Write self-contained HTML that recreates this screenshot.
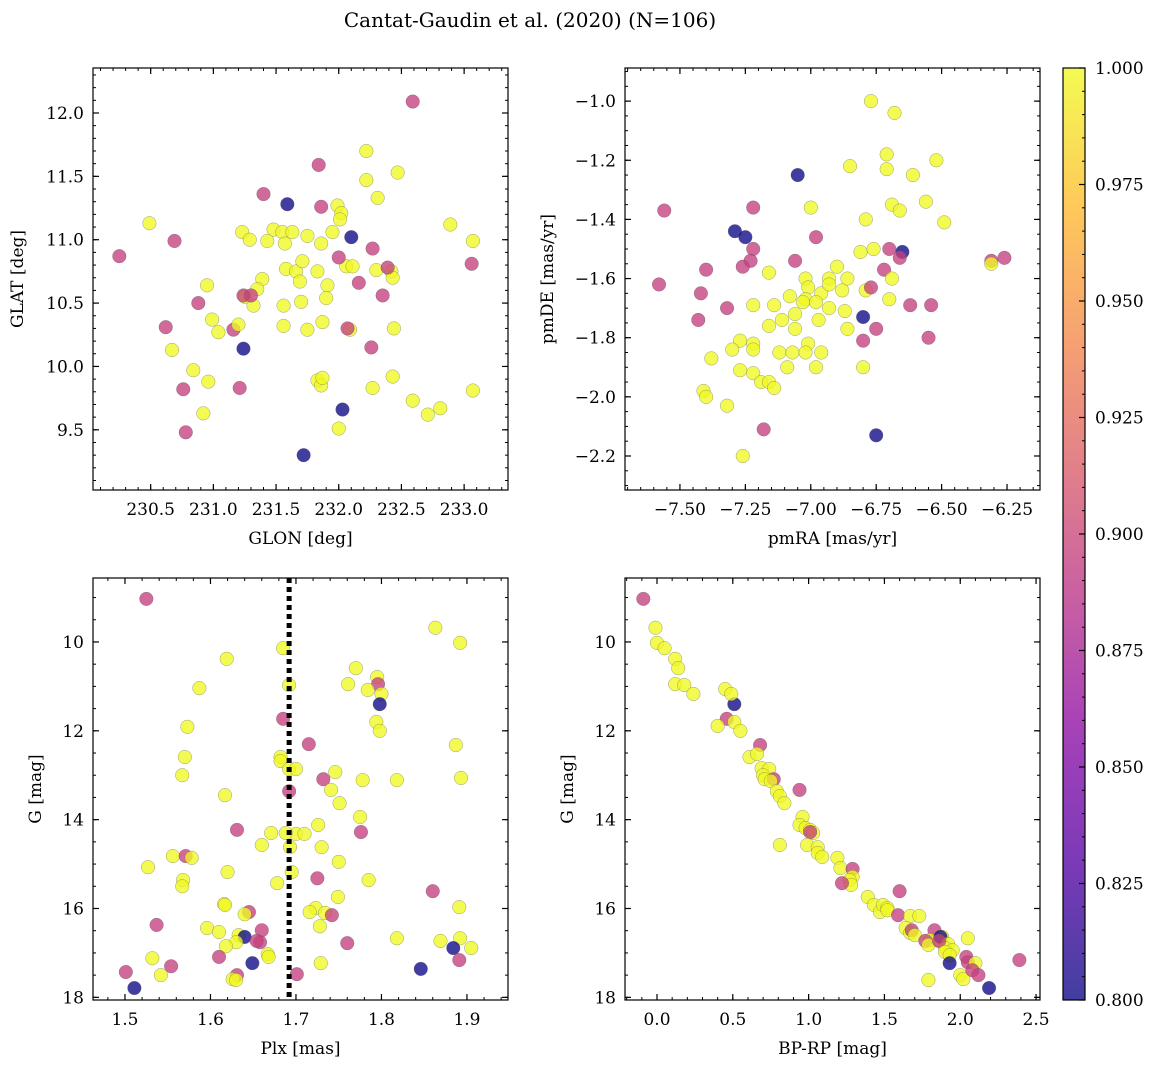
<!DOCTYPE html>
<html><head><meta charset="utf-8"><style>
html,body{margin:0;padding:0;background:#fff;}
svg{display:block;font-family:"DejaVu Serif","Liberation Serif",serif;}
</style></head><body>
<svg id="fig" width="1160" height="1067" viewBox="0 0 1160 1067" xmlns="http://www.w3.org/2000/svg">
<text x="530" y="27" font-size="20" text-anchor="middle">Cantat-Gaudin et al. (2020) (N=106)</text>
</svg>
<script>
// ---- data ----
const p1x=[232.59,232.22,231.84,232.22,232.47,232.31,231.40,231.59,231.86,231.99,232.02,232.01,230.49,232.89,231.23,231.48,231.55,231.63,231.29,231.43,231.57,231.75,231.95,231.86,230.69,230.25,232.10,233.07,232.27,231.58,231.39,231.66,231.71,231.83,232.06,232.11,232.30,232.42,232.43,232.00,232.39,232.16,233.06,230.95,231.35,231.69,231.91,231.90,231.32,231.25,231.24,231.30,230.88,232.35,230.99,231.56,231.56,231.70,231.87,231.16,230.62,231.04,231.20,231.75,232.09,232.07,232.44,232.26,231.24,230.67,230.84,230.96,230.76,231.21,232.43,232.27,231.83,231.86,231.87,230.92,230.78,232.59,232.71,232.81,233.07,232.03,232.00,231.72];
const p1y=[12.09,11.70,11.59,11.47,11.53,11.33,11.36,11.28,11.26,11.27,11.21,11.16,11.13,11.12,11.06,11.08,11.06,11.06,11.00,10.99,10.97,11.03,11.06,10.97,10.99,10.87,11.02,10.99,10.93,10.77,10.69,10.75,10.83,10.75,10.79,10.79,10.76,10.75,10.70,10.86,10.78,10.66,10.81,10.64,10.61,10.67,10.64,10.54,10.48,10.55,10.56,10.56,10.50,10.56,10.37,10.48,10.32,10.51,10.35,10.29,10.31,10.27,10.33,10.29,10.29,10.30,10.30,10.15,10.14,10.13,9.97,9.88,9.82,9.83,9.92,9.83,9.89,9.85,9.91,9.63,9.48,9.73,9.62,9.67,9.81,9.66,9.51,9.30];
const p1c="PYPYYYPBPYYYYYYYYYYYYYYYPPBYPYYYYYYYYYYPPPPYYYYYYYPPPPYYYYYPPYYYYPYPBYYYPPYYYYYYPYYYYBYB";
const p2x=[-6.77,-6.68,-6.71,-6.71,-6.85,-6.52,-6.61,-7.05,-7.56,-6.69,-6.66,-6.56,-6.49,-7.00,-7.22,-6.79,-7.29,-7.25,-6.98,-7.22,-7.23,-6.81,-6.76,-6.70,-6.65,-6.66,-7.06,-7.40,-7.26,-6.72,-7.58,-7.16,-7.02,-6.93,-6.90,-6.31,-6.31,-6.26,-7.01,-7.08,-7.02,-6.96,-6.93,-6.88,-6.86,-6.79,-6.70,-6.69,-6.77,-7.42,-7.22,-7.14,-7.03,-6.98,-6.93,-6.87,-6.62,-6.54,-7.43,-7.32,-7.06,-6.97,-7.11,-6.80,-7.16,-7.06,-6.86,-6.75,-6.55,-7.27,-7.01,-7.22,-6.80,-7.30,-7.22,-7.12,-7.07,-7.02,-6.96,-7.38,-7.09,-6.98,-6.80,-7.27,-7.22,-7.19,-7.16,-7.14,-7.41,-7.40,-7.32,-7.18,-6.75,-7.26];
const p2y=[-1.00,-1.04,-1.18,-1.23,-1.22,-1.20,-1.25,-1.25,-1.37,-1.35,-1.37,-1.34,-1.41,-1.36,-1.36,-1.40,-1.44,-1.46,-1.46,-1.50,-1.54,-1.51,-1.50,-1.50,-1.51,-1.53,-1.54,-1.57,-1.56,-1.57,-1.62,-1.58,-1.60,-1.60,-1.56,-1.54,-1.55,-1.53,-1.63,-1.66,-1.67,-1.65,-1.62,-1.64,-1.60,-1.64,-1.67,-1.60,-1.63,-1.65,-1.69,-1.69,-1.68,-1.68,-1.70,-1.71,-1.69,-1.69,-1.74,-1.70,-1.72,-1.74,-1.74,-1.73,-1.76,-1.77,-1.77,-1.77,-1.80,-1.81,-1.82,-1.82,-1.81,-1.84,-1.84,-1.85,-1.85,-1.85,-1.85,-1.87,-1.90,-1.90,-1.90,-1.91,-1.92,-1.95,-1.95,-1.97,-1.98,-2.00,-2.03,-2.11,-2.13,-2.20];
const p2c=["Y","Y","Y","Y","Y","Y","Y","B","P","Y","Y","Y","Y","Y","P","Y","B","B","P","P","P","Y","Y","P","B","P","P","P","P","P","P","Y","Y","Y","Y","P","Y","P","Y","Y","Y","Y","Y","Y","Y","Y","Y","Y","P","P","Y","Y","Y","Y","Y","Y","P","P","P","P","Y","Y","Y","B","Y","Y","Y","P","P","Y","Y","Y","P","Y","Y","Y","Y","Y","Y","Y","Y","Y","Y","Y","Y","Y","Y","Y","Y","Y","Y","P","B","Y"];
const p3x=[1.525,1.863,1.892,1.685,1.619,1.692,1.795,1.770,1.761,1.796,1.800,1.784,1.587,1.798,1.685,1.794,1.798,1.573,1.887,1.715,1.682,1.570,1.682,1.692,1.700,1.746,1.567,1.732,1.893,1.778,1.818,1.617,1.692,1.741,1.751,1.775,1.776,1.631,1.726,1.671,1.700,1.710,1.688,1.693,1.660,1.730,1.750,1.556,1.571,1.578,1.527,1.620,1.695,1.725,1.568,1.567,1.678,1.785,1.749,1.860,1.616,1.891,1.617,1.723,1.716,1.734,1.742,1.645,1.640,1.537,1.596,1.610,1.728,1.660,1.633,1.640,1.658,1.654,1.630,1.618,1.818,1.760,1.869,1.892,1.905,1.884,1.667,1.668,1.610,1.532,1.554,1.729,1.891,1.649,1.846,1.501,1.542,1.631,1.626,1.630,1.701,1.511];
const p3y=[9.03,9.68,10.02,10.14,10.38,10.97,10.79,10.59,10.95,10.95,11.17,11.08,11.04,11.40,11.73,11.80,12.00,11.91,12.32,12.30,12.59,12.59,12.68,12.86,12.86,12.93,13.00,13.09,13.06,13.11,13.11,13.45,13.36,13.33,13.63,13.94,14.28,14.23,14.12,14.30,14.32,14.32,14.30,14.62,14.57,14.62,14.95,14.82,14.82,14.86,15.07,15.18,15.18,15.32,15.36,15.50,15.43,15.36,15.74,15.61,15.90,15.97,15.92,15.99,16.08,16.10,16.15,16.08,16.13,16.37,16.44,16.53,16.40,16.49,16.60,16.64,16.76,16.73,16.76,16.85,16.67,16.78,16.73,16.67,16.89,16.89,17.03,17.09,17.09,17.12,17.30,17.23,17.16,17.23,17.36,17.43,17.50,17.50,17.59,17.61,17.48,17.79];
const p3c=["P","Y","Y","Y","Y","Y","Y","Y","Y","P","Y","Y","Y","B","P","Y","Y","Y","Y","P","Y","Y","Y","Y","Y","Y","Y","P","Y","Y","Y","Y","P","Y","Y","Y","P","P","Y","Y","Y","Y","Y","Y","Y","Y","Y","Y","P","Y","Y","Y","Y","P","Y","Y","Y","Y","Y","P","Y","Y","Y","Y","Y","Y","P","P","Y","P","Y","Y","Y","P","Y","B","P","P","Y","Y","Y","P","Y","Y","Y","B","Y","Y","P","Y","P","Y","P","B","B","P","Y","P","Y","Y","P","B"];
const p4x=[-0.09,-0.01,0.00,0.05,0.12,0.14,0.12,0.18,0.24,0.45,0.51,0.49,0.46,0.40,0.51,0.55,0.68,0.61,0.66,0.69,0.74,0.70,0.71,0.77,0.75,0.79,0.81,0.84,0.94,0.96,0.94,0.98,1.01,1.03,1.01,0.99,0.81,1.06,1.06,1.09,1.19,1.21,1.29,1.29,1.27,1.28,1.22,1.39,1.43,1.47,1.49,1.52,1.52,1.60,1.59,1.67,1.73,1.64,1.67,1.68,1.70,1.83,1.80,1.85,1.88,1.87,1.92,1.77,1.90,1.95,2.05,1.79,1.86,1.90,1.93,1.93,2.04,2.05,2.10,2.00,2.02,2.08,2.12,1.79,2.39,2.19];
const p4y=[9.03,9.68,10.02,10.14,10.38,10.59,10.95,10.97,11.17,11.06,11.40,11.17,11.73,11.89,11.80,12.00,12.32,12.59,12.52,12.84,12.86,13.00,13.09,13.09,13.13,13.36,13.47,13.63,13.33,13.94,14.12,14.19,14.23,14.30,14.28,14.57,14.57,14.62,14.75,14.84,14.86,15.09,15.11,15.29,15.36,15.47,15.43,15.74,15.92,16.08,15.92,15.99,16.04,15.61,16.15,16.17,16.17,16.44,16.55,16.49,16.60,16.49,16.71,16.71,16.64,16.64,16.80,16.73,16.89,16.94,16.67,16.82,16.73,16.98,17.05,17.23,17.09,17.21,17.23,17.50,17.59,17.39,17.50,17.61,17.16,17.79];
const p4c=["P","Y","Y","Y","Y","Y","Y","Y","Y","Y","B","Y","P","Y","Y","Y","P","Y","Y","Y","Y","Y","Y","P","Y","Y","Y","Y","P","Y","Y","Y","Y","Y","P","Y","Y","Y","Y","Y","Y","Y","P","Y","Y","Y","P","Y","Y","Y","Y","Y","Y","P","P","Y","Y","Y","Y","P","Y","P","Y","Y","Y","B","Y","P","Y","Y","Y","Y","P","Y","Y","B","P","P","Y","Y","Y","P","P","Y","P","B"];
const probOf={Y:1.0,P:0.895,B:0.8};
const cbTicks=[0.800,0.825,0.850,0.875,0.900,0.925,0.950,0.975,1.000];
const plxLine=1.692;

// ---- plasma colormap ----
const plasma=[[13,8,135],[84,2,163],[139,10,165],[185,50,137],[219,92,104],[244,136,73],[254,188,43],[240,249,33]];
function cmap(t){if(!isFinite(t))t=1;t=Math.max(0,Math.min(1,t));const s=t*(plasma.length-1),i=Math.min(Math.floor(s),plasma.length-2),f=s-i;
const a=plasma[i],b=plasma[i+1];return `rgb(${a.map((v,k)=>Math.round(v+(b[k]-v)*f)).join(',')})`;}
function pc(p){return cmap((p-0.8)/0.2);}

const NS="http://www.w3.org/2000/svg";
const svg=document.getElementById('fig');
function mk(tag,attrs,parent){const e=document.createElementNS(NS,tag);for(const k in attrs)e.setAttribute(k,attrs[k]);(parent||svg).appendChild(e);return e;}
function fmt(v,d){return v.toFixed(d).replace('-','\u2212');}

function panel(o){
  const g=mk('g',{});
  
  
  const L=o.L,R=o.R,T=o.T,B=o.B;
  const sx=v=>L+(v-o.x0)/(o.x1-o.x0)*(R-L);
  const sy=v=>T+(v-o.y0)/(o.y1-o.y0)*(B-T);
  const pg=mk('g',{},g);
  
  
  const n=Math.min(o.xs.length,o.ys.length);
  for(let i=0;i<n;i++){
    const p=probOf[o.cs[i]]||1.0;
    const c=mk('circle',{cx:sx(o.xs[i]),cy:sy(o.ys[i]),r:6.8,fill:pc(p),'fill-opacity':0.78,stroke:'#555','stroke-width':0.4,'stroke-opacity':0.7},pg);
    
    
  }
  if(o.extra)o.extra(g,sx,sy);
  const fr=mk('rect',{x:L,y:T,width:R-L,height:B-T,fill:'none',stroke:'#000','stroke-width':1.2},g);
  
  
  const eps=1e-9;
  function ticks(a0,a1,step){const lo=Math.min(a0,a1),hi=Math.max(a0,a1);const r=[];for(let k=Math.ceil(lo/step-eps);k*step<=hi+eps;k++)r.push(k*step);return r;}
  ticks(o.x0,o.x1,o.xmin).forEach(v=>{const x=sx(v);mk('line',{x1:x,x2:x,y1:B,y2:B-3,stroke:'#000','stroke-width':1},g);mk('line',{x1:x,x2:x,y1:T,y2:T+3,stroke:'#000','stroke-width':1},g);});
  ticks(o.x0,o.x1,o.xmaj).forEach(v=>{const x=sx(v);mk('line',{x1:x,x2:x,y1:B,y2:B-6,stroke:'#000','stroke-width':1.2},g);mk('line',{x1:x,x2:x,y1:T,y2:T+6,stroke:'#000','stroke-width':1.2},g);
    const t=mk('text',{x:x,y:B+25,'font-size':17,'text-anchor':'middle'},g);t.textContent=fmt(v,o.xd);
    });
  ticks(o.y0,o.y1,o.ymin).forEach(v=>{const y=sy(v);mk('line',{x1:L,x2:L+3,y1:y,y2:y,stroke:'#000','stroke-width':1},g);mk('line',{x1:R,x2:R-3,y1:y,y2:y,stroke:'#000','stroke-width':1},g);});
  ticks(o.y0,o.y1,o.ymaj).forEach(v=>{const y=sy(v);mk('line',{x1:L,x2:L+6,y1:y,y2:y,stroke:'#000','stroke-width':1.2},g);mk('line',{x1:R,x2:R-6,y1:y,y2:y,stroke:'#000','stroke-width':1.2},g);
    const t=mk('text',{x:L-9,y:y+6,'font-size':17,'text-anchor':'end'},g);t.textContent=fmt(v,o.yd);
    });
  const xl=mk('text',{x:(L+R)/2,y:B+54,'font-size':17,'text-anchor':'middle'},g);xl.textContent=o.xlab;
  
  const yx=o.ylx;const yl=mk('text',{x:yx,y:(T+B)/2,'font-size':17,'text-anchor':'middle',transform:`rotate(-90 ${yx} ${(T+B)/2})`},g);yl.textContent=o.ylab;
  
}

panel({name:'glon-glat-panel',L:93,R:508,T:68,B:490,x0:230.04,x1:233.35,y0:12.355,y1:9.025,xmaj:0.5,xmin:0.1,ymaj:0.5,ymin:0.1,xd:1,yd:1,xs:p1x,ys:p1y,cs:p1c,xlab:'GLON [deg]',ylab:'GLAT [deg]',ylx:23});
panel({name:'proper-motion-panel',L:625,R:1040,T:68,B:490,x0:-7.71,x1:-6.124,y0:-0.888,y1:-2.315,xmaj:0.25,xmin:0.05,ymaj:0.2,ymin:0.05,xd:2,yd:1,xs:p2x,ys:p2y,cs:p2c,xlab:'pmRA [mas/yr]',ylab:'pmDE [mas/yr]',ylx:553});
panel({name:'parallax-mag-panel',L:93,R:508,T:578,B:1000,x0:1.4626,x1:1.948,y0:8.56,y1:18.06,xmaj:0.1,xmin:0.02,ymaj:2,ymin:0.5,xd:1,yd:0,xs:p3x,ys:p3y,cs:p3c,xlab:'Plx [mas]',ylab:'G [mag]',ylx:41,
  extra:(g,sx,sy)=>{const l=mk('line',{x1:sx(plxLine),x2:sx(plxLine),y1:578,y2:1000,stroke:'#000','stroke-width':5,'stroke-dasharray':'5 4'},g);
    }});
panel({name:'cmd-panel',L:625,R:1040,T:578,B:1000,x0:-0.211,x1:2.526,y0:8.56,y1:18.06,xmaj:0.5,xmin:0.1,ymaj:2,ymin:0.5,xd:1,yd:0,xs:p4x,ys:p4y,cs:p4c,xlab:'BP-RP [mag]',ylab:'G [mag]',ylx:573});

// colorbar
(function(){
  const L=1063,R=1085,T=68,B=1000;
  const g=mk('g',{});
  
  
  const defs=mk('defs',{},g);
  const lg=mk('linearGradient',{id:'cbg',x1:0,y1:1,x2:0,y2:0},defs);
  for(let i=0;i<=20;i++){const t=i/20;mk('stop',{offset:t,'stop-color':cmap(t),'stop-opacity':0.78},lg);}
  mk('rect',{x:L,y:T,width:R-L,height:B-T,fill:'url(#cbg)'},g);
  mk('rect',{x:L,y:T,width:R-L,height:B-T,fill:'none',stroke:'#000','stroke-width':1.2},g);
  const sy=v=>B-(v-0.8)/0.2*(B-T);
  for(let k=0;k<=40;k++){const y=sy(0.8+k*0.005);mk('line',{x1:R,x2:R-3,y1:y,y2:y,stroke:'#000','stroke-width':1},g);}
  cbTicks.forEach(v=>{const y=sy(v);mk('line',{x1:R,x2:R-6,y1:y,y2:y,stroke:'#000','stroke-width':1.2},g);
    const t=mk('text',{x:R+10,y:y+6,'font-size':17},g);t.textContent=v.toFixed(3);
    });
})();
</script>
</body></html>
